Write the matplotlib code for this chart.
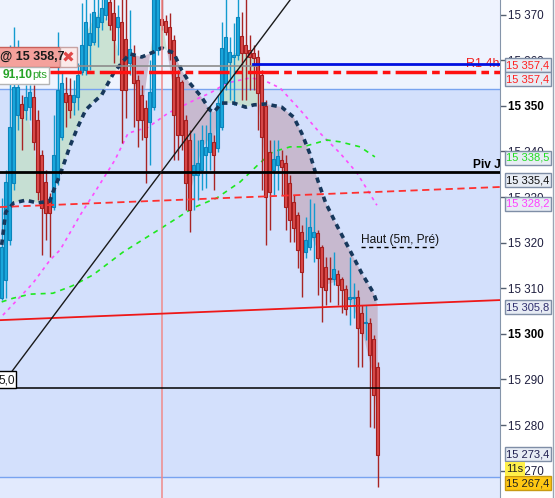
import numpy as np
import pandas as pd
import matplotlib
matplotlib.use("Agg")
import matplotlib.pyplot as plt
from matplotlib.patches import Rectangle
from matplotlib.lines import Line2D
from matplotlib.ticker import FuncFormatter

plt.rcParams['font.family'] = ['Liberation Sans', 'DejaVu Sans']

# OHLC, one candle per index
opens = [15307.8, 15311.8, 15320.6, 15333.1, 15348.0, 15350.4, 15349.1, 15349.7, 15351.9, 15346.9,
         15339.2, 15333.3, 15329.3, 15327.8, 15333.7, 15343.2, 15352.8, 15352.4, 15350.8, 15351.9,
         15357.4, 15357.8, 15363.3, 15364.0, 15367.3, 15368.4, 15369.9, 15372.8, 15370.3, 15367.3,
         15368.4, 15364.6, 15359.4, 15360.9, 15355.7, 15352.4, 15349.5, 15346.4, 15349.7, 15362.2,
         15369.0, 15368.6, 15367.3, 15364.4, 15356.3, 15355.2, 15346.9, 15342.5, 15334.8, 15334.8,
         15335.9, 15339.2, 15339.9, 15342.1, 15340.7, 15345.3, 15355.0, 15359.6, 15360.7, 15361.1,
         15365.3, 15363.3, 15362.2, 15361.6, 15360.7, 15356.8, 15350.0, 15339.9, 15335.9, 15337.0,
         15338.1, 15337.5, 15333.1, 15328.9, 15326.0, 15322.3, 15317.9, 15319.0, 15321.2, 15322.1,
         15319.0, 15314.6, 15312.2, 15312.0, 15313.1, 15312.0, 15309.8, 15307.6, 15307.8, 15308.1,
         15304.6, 15302.4, 15302.4, 15298.9, 15292.7]
highs = [15329.8, 15335.9, 15363.3, 15367.3, 15364.4, 15352.4, 15354.6, 15354.6, 15354.6, 15349.1,
         15340.3, 15335.9, 15330.9, 15348.0, 15366.2, 15357.4, 15356.3, 15356.1, 15355.7, 15359.4,
         15372.5, 15375.0, 15370.3, 15375.0, 15375.0, 15375.0, 15376.0, 15375.0, 15375.0, 15372.1,
         15375.0, 15375.0, 15371.0, 15363.3, 15356.8, 15354.6, 15351.3, 15360.0, 15377.6, 15377.6,
         15375.0, 15369.9, 15370.3, 15365.5, 15357.8, 15355.7, 15348.0, 15344.7, 15344.0, 15342.5,
         15345.8, 15345.8, 15350.2, 15343.6, 15352.4, 15368.4, 15374.0, 15365.1, 15368.2, 15375.0,
         15370.6, 15375.0, 15365.5, 15363.3, 15362.2, 15357.8, 15351.3, 15342.5, 15342.5, 15342.5,
         15340.3, 15339.2, 15334.8, 15330.4, 15326.7, 15323.9, 15325.6, 15329.6, 15328.7, 15322.8,
         15319.5, 15316.8, 15316.8, 15317.9, 15314.0, 15312.4, 15310.7, 15316.8, 15311.1, 15309.6,
         15306.3, 15306.3, 15303.5, 15299.7, 15293.8]
lows = [15307.4, 15307.8, 15319.5, 15331.5, 15344.7, 15340.3, 15346.9, 15346.9, 15340.3, 15329.3,
        15317.3, 15320.6, 15316.8, 15327.1, 15332.6, 15342.5, 15345.3, 15347.3, 15348.0, 15349.1,
        15356.8, 15356.8, 15357.8, 15363.3, 15362.9, 15366.6, 15368.8, 15366.6, 15359.4, 15361.1,
        15341.8, 15347.3, 15356.8, 15345.3, 15341.0, 15342.5, 15333.1, 15337.0, 15349.1, 15361.1,
        15366.6, 15365.5, 15360.0, 15338.1, 15338.1, 15340.3, 15327.1, 15322.3, 15327.1, 15329.3,
        15331.5, 15332.0, 15335.9, 15331.5, 15339.9, 15344.7, 15353.5, 15351.3, 15350.2, 15360.0,
        15351.3, 15351.3, 15353.5, 15353.5, 15344.7, 15331.5, 15319.5, 15322.8, 15330.4, 15331.5,
        15330.4, 15322.8, 15320.1, 15320.1, 15314.4, 15308.1, 15316.6, 15318.4, 15315.7, 15308.5,
        15302.6, 15306.3, 15307.0, 15310.7, 15306.3, 15304.6, 15304.1, 15301.9, 15303.5, 15292.7,
        15292.7, 15298.6, 15279.6, 15279.3, 15266.4]
closes = [15319.0, 15333.3, 15345.3, 15354.1, 15354.1, 15347.3, 15351.9, 15353.0, 15342.1, 15331.1,
          15327.6, 15326.5, 15326.5, 15339.2, 15353.5, 15355.0, 15350.8, 15349.1, 15352.4, 15356.8,
          15363.3, 15368.4, 15366.0, 15370.6, 15369.5, 15371.4, 15374.3, 15367.7, 15364.4, 15369.5,
          15353.5, 15353.5, 15362.5, 15355.0, 15346.9, 15346.9, 15343.2, 15353.0, 15375.4, 15375.4,
          15367.7, 15366.2, 15361.6, 15348.0, 15343.6, 15343.6, 15333.1, 15327.1, 15337.0, 15337.5,
          15342.5, 15341.0, 15344.0, 15339.2, 15350.6, 15362.7, 15365.1, 15361.8, 15361.1, 15369.5,
          15361.6, 15361.6, 15360.7, 15360.5, 15352.8, 15343.2, 15330.0, 15331.1, 15338.3, 15339.0,
          15336.6, 15327.8, 15325.0, 15323.2, 15318.4, 15313.5, 15320.6, 15323.4, 15322.3, 15316.6,
          15310.3, 15309.6, 15312.0, 15314.2, 15310.7, 15309.6, 15305.4, 15308.1, 15308.1, 15301.3,
          15300.2, 15302.6, 15295.3, 15286.6, 15273.4]

# thick dotted average
avg_idx = [0, 1, 3, 6, 9, 12, 13, 15, 17, 19, 21, 23, 25, 28, 30, 32, 35, 38, 40, 43, 45, 47, 50,
           52, 53, 55, 58, 61, 63, 66, 70, 73, 75, 77, 79, 81, 84, 87, 90, 93, 94]
avg_val = [15319.5, 15326.7, 15328.7, 15329.3, 15328.7, 15329.1, 15331.5, 15335.9, 15341.0, 15345.3,
           15349.1, 15350.8, 15352.4, 15357.2, 15359.4, 15361.4, 15360.7, 15361.8, 15362.7, 15361.6,
           15357.8, 15355.0, 15351.9, 15349.1, 15348.6, 15350.6, 15350.6, 15349.7, 15350.2, 15350.4,
           15349.7, 15347.5, 15344.0, 15339.6, 15333.7, 15328.7, 15323.4, 15318.4, 15313.3, 15308.9,
           15306.3]

# magenta dotted average
mag_idx = [0.3, 4.6, 7.8, 12.1, 14.6, 19.6, 23.3, 28.3, 31.6, 36.6, 41.6, 48.3, 52.1, 56.3, 62.1,
           65.3, 69.6, 74.6, 79.6, 84.6, 88.8, 93.8]
mag_val = [15304.1, 15308.1, 15311.1, 15316.2, 15318.4, 15326.0, 15331.1, 15338.1, 15344.0, 15345.3,
           15348.4, 15351.3, 15352.8, 15355.0, 15356.1, 15355.7, 15353.9, 15349.1, 15344.0, 15339.6,
           15335.3, 15328.2]

# green dashed average
grn_idx = [0.0, 2.8, 7.1, 12.8, 17.6, 22.8, 30.3, 40.3, 47.8, 53.8, 59.6, 64.6, 67.8, 72.1, 75.3,
           81.3, 84.6, 89.6, 93.3]
grn_val = [15307.0, 15307.8, 15308.7, 15308.9, 15310.5, 15312.9, 15317.9, 15323.4, 15327.6, 15329.8,
           15333.3, 15337.5, 15339.9, 15341.0, 15341.0, 15342.5, 15342.1, 15341.0, 15338.8]

# levels
order_level = 15358.7
r1_level = 15359.2
red_level = 15357.4
piv_level = 15335.5
low_line = 15288.1
band_top, band_bot = 15353.7, 15268.6
red_dash_ends = [15327.8, 15332.2]
red_solid_ends = [15303.0, 15307.4]
diag_pts = [(-0.4, 15288.3), (72.1, 15373.2)]
vline_idx = 40.1

yticks = list(range(15270, 15371, 10))

W, H = 555, 498
fig = plt.figure(figsize=(W / 100, H / 100), dpi=100)
fig.patch.set_facecolor('white')
ax = fig.add_axes([0, 0, 500 / W, 1])
x0, x1 = -0.425, 124.575
ax.set_xlim(x0, x1)
ax.set_ylim(15264.0, 15373.2)
ax.set_facecolor('#eef3fe')

ax.axhspan(band_bot, band_top, color='#d3e0fc', lw=0, zorder=0)
ax.axhspan(15200, band_bot, color='#e2eafd', lw=0, zorder=0)

o = np.array(opens); h = np.array(highs); l = np.array(lows); c = np.array(closes)
idx = np.arange(len(o))

# fill between the dotted average and the (fast) price
fast = pd.Series(c).ewm(span=2, adjust=False).mean().to_numpy()
ai = np.array(avg_idx); av = np.array(avg_val); fv = fast[ai]
ax.fill_between(ai, av, fv, where=fv >= av, interpolate=True, color='#c4dfcc', alpha=0.85, lw=0, zorder=1)
ax.fill_between(ai, av, fv, where=fv < av, interpolate=True, color='#c6b3c8', alpha=0.85, lw=0, zorder=1)

ax.axhline(band_top, color='#78a3f0', lw=1, zorder=2)
ax.axhline(band_bot, color='#78a3f0', lw=1, zorder=2)

ax.plot(mag_idx, mag_val, color='#ff4cff', lw=1.2, ls=(0, (2, 2.5)), zorder=2.5)
ax.plot(grn_idx, grn_val, color='#1fe81f', lw=1.2, ls=(0, (3, 3)), zorder=2.5)

# candles
up = c >= o
wick_col = np.where(up, '#139bd0', '#a82424')
ax.vlines(idx, l, h, colors=wick_col, lw=1.0, zorder=3)
body_h = np.maximum(np.abs(c - o), 0.15)
ax.bar(idx[up], body_h[up], bottom=np.minimum(o, c)[up], width=0.68,
       color='#1aa8dd', edgecolor='#0b84bb', lw=0.8, zorder=4)
ax.bar(idx[~up], body_h[~up], bottom=np.minimum(o, c)[~up], width=0.68,
       color='#d94a4a', edgecolor='#a51e1e', lw=0.8, zorder=4)

ax.plot(avg_idx, avg_val, color='#17385c', lw=2.6, ls=(0, (1.5, 1.3)), zorder=5)

# levels and drawn lines
ax.axvline(vline_idx, color='#f08a8a', lw=1.1, zorder=5)
ax.plot([x0, 63.8], [order_level] * 2, color='#8c8c8c', lw=1.2, zorder=5)
ax.plot([12.1, x1], [red_level] * 2, color='#ff1010', lw=2.5, ls=(0, (9, 1.5, 2.2, 1.5)), zorder=5)
ax.text(466 / 500, 1 - 64 / H, 'R1 4h', transform=ax.transAxes, color='#ee2020',
        fontsize=9, va='center', ha='left', zorder=5.5)
ax.plot([62.8, x1], [r1_level] * 2, color='#0010e0', lw=2, zorder=6)
ax.axhline(piv_level, color='black', lw=2, zorder=6)
ax.axhline(low_line, color='black', lw=1.1, zorder=6)
ax.plot([x0, x1], red_dash_ends, color='#ff3030', lw=1.3, ls=(0, (4, 2.5)), zorder=6)
ax.plot([x0, x1], red_solid_ends, color='#ee1818', lw=1.3, zorder=6)
ax.axline(diag_pts[0], diag_pts[1], color='#1a1a1a', lw=1, zorder=6)

# axis
for s in ['top', 'left', 'bottom']:
    ax.spines[s].set_visible(False)
ax.spines['right'].set_color('#8595aa')
ax.set_xticks([])
ax.yaxis.tick_right()
ax.set_yticks(yticks)
ax.yaxis.set_major_formatter(FuncFormatter(lambda v, p: f"{int(v):,}".replace(',', ' ')))
ax.tick_params(axis='y', direction='out', length=4, width=1, color='#556070', pad=2,
               labelsize=8.4, labelcolor='#202040')
for lab, v in zip(ax.get_yticklabels(), yticks):
    if v % 50 == 0:
        lab.set_fontweight('bold')
        lab.set_color('black')


def fx(x):
    return x / W


def fy(y):
    return 1 - y / H


def box(xa, ya, xb, yb, fc, ec, lw=1.0):
    fig.add_artist(Rectangle((fx(xa), fy(yb)), (xb - xa) / W, (yb - ya) / H,
                             transform=fig.transFigure, fc=fc, ec=ec, lw=lw, zorder=8))


def tag(yc, text, color, fc='#e7ecf4', ec='#7f8ea6', xa=505, xb=551):
    box(xa, yc - 7, xb, yc + 7, fc, ec)
    fig.text(fx(xa + 1.5), fy(yc), text, color=color, fontsize=8.0, va='center', ha='left', zorder=9)


tag(65, '15 357,4', '#ff2020')
tag(79.5, '15 357,4', '#ff2020')
tag(158, '15 338,5', '#22dd22')
tag(180, '15 335,4', '#101010')
tag(204, '15 328,2', '#ff40ff')
tag(307, '15 305,8', '#303070')
tag(454, '15 273,4', '#202050')
tag(483, '15 267,4', '#202020', fc='#ffc813', ec='#c89a10')
box(505, 462, 525, 476, '#fff04a', '#fff04a', lw=0)
fig.text(fx(506), fy(469), '11s', fontsize=8.0, va='center', ha='left', color='#202020', zorder=9)

fig.add_artist(Line2D([fx(552.5)] * 2, [0, 1], transform=fig.transFigure, color='#9aa5b5', lw=1))

# order label top left
box(-2, 47, 60, 67, '#f4a19c', '#c9605a')
fig.text(fx(0), fy(57), '@ 15 358,7', fontsize=9, fontweight='bold', va='center', ha='left',
         color='#1a1a1a', zorder=9)
box(60, 47, 77, 67, '#fbeaea', '#c8a3a3')
fig.text(fx(68.5), fy(57.5), '✖', fontsize=11, va='center', ha='center', color='#e04848',
         family='DejaVu Sans', zorder=9)
box(-2, 67, 49, 84, 'white', '#b5b5b5')
fig.text(fx(3), fy(75.5), '91,10', fontsize=8.6, fontweight='bold', va='center', ha='left',
         color='#27a327', zorder=9)
fig.text(fx(32), fy(75.5), 'pts', fontsize=8, va='center', ha='left', color='#27a327', zorder=9)

# small box on the diagonal line
box(-2, 371, 16, 388, 'white', 'black')
fig.text(fx(15), fy(380), '5,0', fontsize=8.6, va='center', ha='right', color='#1a1a1a', zorder=9)

# texts
fig.text(fx(473), fy(165), 'Piv J', fontsize=8.6, fontweight='bold', va='center', ha='left',
         color='black', zorder=9)
fig.text(fx(361), fy(239.5), 'Haut (5m, Pré)', fontsize=8.6, va='center', ha='left',
         color='#111111', zorder=9)
fig.add_artist(Line2D([fx(361), fx(436)], [fy(247)] * 2, transform=fig.transFigure,
                      color='black', lw=1, ls=(0, (3, 2.5))))

fig.savefig('out.png', dpi=100)
